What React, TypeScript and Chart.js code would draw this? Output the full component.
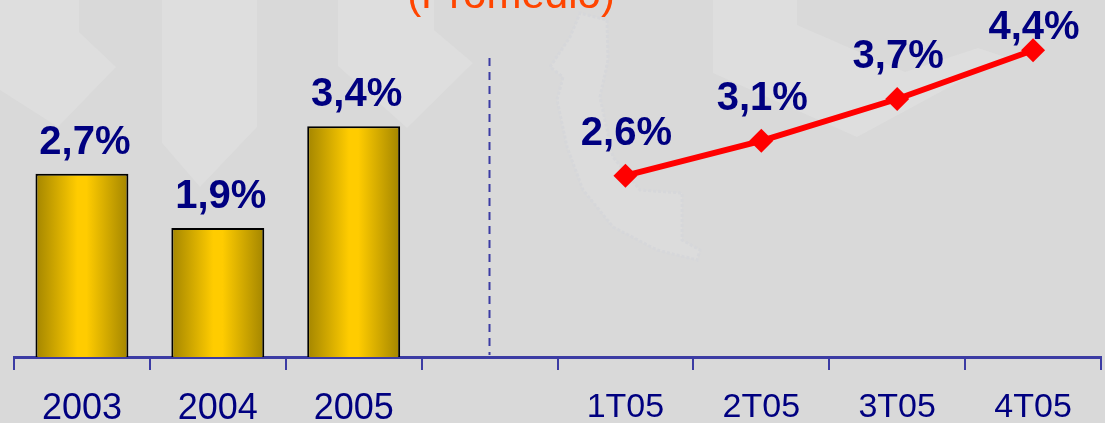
import React, { useEffect, useRef } from "react";
import { Chart, registerables } from "chart.js";

Chart.register(...registerables);

const categories = ["2003", "2004", "2005", "", "1T05", "2T05", "3T05", "4T05"];
const annualValues = [2.7, 1.9, 3.4, null, null, null, null, null];
const quarterlyValues = [null, null, null, null, 2.6, 3.1, 3.7, 4.4];
const titleText = "(Promedio)";
const NAVY = "#000080";
const AXIS = "#3c3ca4";
const FONT = '"Liberation Sans", Arial, sans-serif';

const fmt = (v: number) => v.toFixed(1).replace(".", ",") + "%";

const poly = (ctx: CanvasRenderingContext2D, pts: number[][]) => {
  ctx.beginPath();
  pts.forEach((p, i) => (i ? ctx.lineTo(p[0], p[1]) : ctx.moveTo(p[0], p[1])));
  ctx.closePath();
};

const backgroundPlugin = {
  id: "backdrop",
  beforeDraw(chart: any) {
    const ctx: CanvasRenderingContext2D = chart.ctx;
    ctx.save();
    ctx.fillStyle = "#d9d9d9";
    ctx.fillRect(0, 0, chart.width, chart.height);
    const shapes = [
      [[0, 0], [79, 0], [79, 32], [116, 67], [58, 127], [0, 90]],
      [[162, 0], [257, 0], [257, 127], [200, 187], [162, 143]],
      [[338, 0], [434, 0], [434, 30], [473, 63], [407, 128], [338, 66]],
      [[713, 0], [797, 0], [797, 25], [905, 72], [978, 48], [1005, 57], [857, 137], [713, 73]],
    ];
    shapes.forEach((s) => {
      poly(ctx, s);
      ctx.fillStyle = "#dedede";
      ctx.fill();
    });
    const land = [[550, 67], [570, 37], [580, 13], [607, 20], [608, 60], [600, 97], [613, 157], [640, 190], [682, 193], [682, 240], [700, 250], [697, 260], [657, 250], [613, 227], [583, 190], [567, 147], [557, 100], [563, 77]];
    poly(ctx, land);
    ctx.fillStyle = "#dcdcdc";
    ctx.fill();
    ctx.strokeStyle = "#d6d7da";
    ctx.lineWidth = 3;
    ctx.setLineDash([3, 2]);
    ctx.stroke();
    ctx.restore();
  },
};

const overlayPlugin = {
  id: "overlay",
  beforeDatasetsDraw(chart: any) {
    const ctx: CanvasRenderingContext2D = chart.ctx;
    const x = Math.round(chart.scales.x.getPixelForValue(3)) - 0.5;
    ctx.save();
    ctx.strokeStyle = AXIS;
    ctx.lineWidth = 2;
    ctx.setLineDash([8, 6]);
    ctx.beginPath();
    ctx.moveTo(x, 58);
    ctx.lineTo(x, chart.chartArea.bottom - 2);
    ctx.stroke();
    ctx.restore();
  },
  afterDraw(chart: any) {
    const ctx: CanvasRenderingContext2D = chart.ctx;
    ctx.save();
    ctx.textAlign = "center";
    ctx.textBaseline = "alphabetic";
    ctx.fillStyle = "#ff4500";
    ctx.font = `42px ${FONT}`;
    ctx.fillText(titleText, 511, 8);
    ctx.fillStyle = NAVY;
    ctx.font = `bold 40px ${FONT}`;
    chart.data.datasets.forEach((ds: any, di: number) => {
      const meta = chart.getDatasetMeta(di);
      ds.data.forEach((v: number | null, i: number) => {
        if (v === null) return;
        const el = meta.data[i];
        const y = di === 0 ? el.y - 20 : Math.max(el.y - 31, 39);
        ctx.fillText(fmt(v), el.x + (di === 0 ? 3 : 1), y);
      });
    });
    ctx.restore();
  },
};

export default function App() {
  const ref = useRef<HTMLCanvasElement>(null);
  useEffect(() => {
    document.body.style.margin = "0";
    const chart = new Chart(ref.current!, {
      type: "bar",
      data: {
        labels: categories,
        datasets: [
          {
            type: "bar",
            data: annualValues,
            yAxisID: "y",
            order: 2,
            barPercentage: 0.684,
            categoryPercentage: 1,
            borderColor: "#000000",
            borderWidth: 2,
            borderSkipped: "bottom",
            backgroundColor: (c: any) => {
              const s = c.chart.scales.x;
              if (!s || !c.chart.chartArea) return "#ffcc00";
              const mid = s.getPixelForValue(c.dataIndex);
              const g = c.chart.ctx.createLinearGradient(mid - 46, 0, mid + 46, 0);
              g.addColorStop(0, "#a48600");
              g.addColorStop(0.45, "#ffcc00");
              g.addColorStop(0.55, "#ffcc00");
              g.addColorStop(1, "#a48600");
              return g;
            },
          },
          {
            type: "line",
            data: quarterlyValues,
            yAxisID: "y2",
            order: 1,
            borderColor: "#ff0000",
            borderWidth: 6,
            backgroundColor: "#ff0000",
            pointStyle: "rectRot",
            pointRadius: 12,
            pointBorderWidth: 0,
            tension: 0,
            spanGaps: false,
          },
        ],
      } as any,
      options: {
        animation: false,
        responsive: false,
        layout: { autoPadding: false, padding: { left: 14, right: 4, top: 0, bottom: 0 } },
        plugins: { legend: { display: false }, title: { display: false }, tooltip: { enabled: false } },
        scales: {
          x: {
            afterFit: (axis: any) => {
              axis.height = 66;
              axis.paddingLeft = 0;
              axis.paddingRight = 0;
            },
            border: { color: AXIS, width: 3 },
            grid: { drawOnChartArea: false, drawTicks: true, tickLength: 13, color: AXIS, lineWidth: 2, offset: true },
            ticks: {
              color: NAVY,
              padding: 17,
              maxRotation: 0,
              autoSkip: false,
              font: (c: any) => ({ family: FONT, size: c.index < 4 ? 36 : 34 }),
            },
          },
          y: { display: false, min: 0, max: 5.26 },
          y2: { display: false, min: 0, max: 5.12 },
        },
      } as any,
      plugins: [backgroundPlugin, overlayPlugin],
    });
    return () => chart.destroy();
  }, []);
  return <canvas ref={ref} width={1105} height={423} style={{ display: "block" }} />;
}
